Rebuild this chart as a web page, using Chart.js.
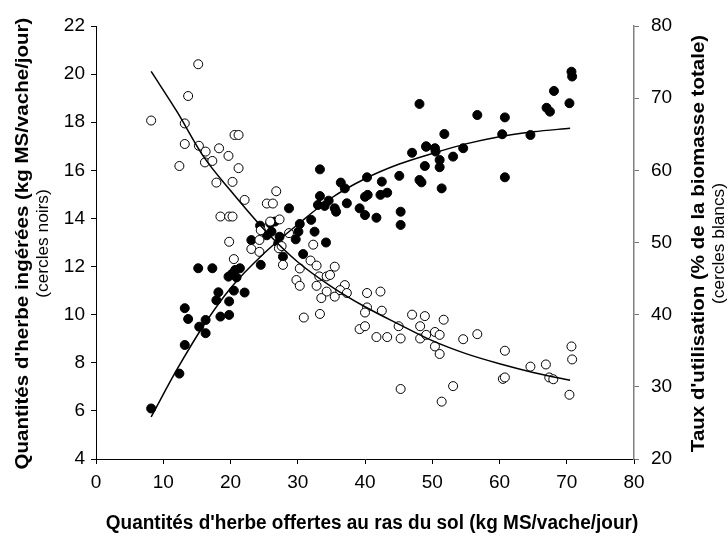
<!DOCTYPE html>
<html>
<head>
<meta charset="utf-8">
<script src="https://cdn.jsdelivr.net/npm/chart.js@4/dist/chart.umd.min.js"></script>
<style>
  body { margin: 0; background: #fff; }
  canvas { display: block; }
</style>
</head>
<body>
<canvas id="chart" width="728" height="538"></canvas>
<script>
// cercles noirs : quantités ingérées (axe gauche)
const blackX = [8.2, 12.4, 13.2, 13.2, 13.7, 15.35, 16.3, 16.3, 17.9, 19.8, 18.5, 19.8, 15.2, 17.3, 18.2,
  20.5, 22.1, 19.7, 20.2, 20.9, 21.4, 20.7, 24.5, 23.1, 24.4, 25.4, 48.1, 33.3, 47.0, 49.1, 48.9, 48.1,
  48.4, 36.4, 37.0, 40.3, 42.5, 45.1, 43.3, 42.3, 40.4, 40.0, 39.2, 40.0, 41.7, 45.3, 45.3, 37.3, 35.5,
  35.7, 34.6, 33.3, 33.0, 34.0, 28.7, 30.3, 30.1, 29.7, 32.0, 32.5, 34.2, 26.6, 26.1, 27.3, 27.1, 30.8,
  27.8, 25.9, 70.7, 70.8, 68.1, 67.0, 67.5, 70.4, 56.7, 60.8, 60.4, 64.6, 60.8, 54.6, 53.1, 51.8, 50.4,
  50.5, 51.1, 51.1, 51.4, 49.1];
const blackY = [6.1, 7.55, 8.74, 10.27, 9.82, 9.5, 9.78, 9.23, 10.6, 10.55, 9.92, 9.99, 11.93, 11.93, 10.93,
  11.0, 10.92, 11.58, 11.69, 11.55, 11.93, 11.86, 12.07, 13.1, 13.7, 13.3, 18.76, 16.04, 16.73, 17.0, 16.18, 15.6,
  15.5, 15.49, 15.25, 15.71, 15.53, 15.77, 15.07, 14.98, 14.98, 14.9, 14.42, 14.14, 14.03, 14.28, 13.73, 14.63, 14.42,
  14.28, 14.74, 14.93, 14.56, 14.52, 14.42, 13.77, 13.45, 13.13, 13.94, 13.45, 13.0, 13.87, 13.45, 13.24, 12.97, 12.52,
  12.41, 13.8, 20.1, 19.9, 19.3, 18.6, 18.44, 18.79, 18.3, 18.2, 17.5, 17.47, 15.71, 16.92, 16.57, 17.51, 16.92,
  16.78, 16.43, 16.13, 15.25, 16.98];

// cercles blancs : taux d'utilisation (axe droit)
const whiteX = [15.2, 13.7, 8.2, 13.2, 20.6, 21.2, 13.2, 15.3, 16.3, 18.3, 19.7, 16.2, 17.3, 12.4, 21.2,
  17.9, 20.3, 22.1, 25.4, 18.5, 19.8, 20.3, 19.8, 23.1, 24.3, 24.3, 25.9, 24.5, 20.5, 26.8, 26.3, 27.3,
  28.7, 32.3, 27.2, 27.6, 27.8, 31.9, 32.8, 30.3, 35.5, 29.8, 30.3, 33.2, 34.3, 34.8, 32.8, 34.3, 33.5,
  35.5, 37.0, 36.3, 37.3, 30.9, 33.3, 40.3, 42.3, 40.3, 40.0, 42.5, 39.2, 40.0, 41.7, 43.3, 45.3, 45.0,
  47.0, 48.9, 48.2, 48.2, 49.1, 45.3, 51.7, 50.4, 51.1, 50.4, 51.1, 54.6, 56.7, 60.8, 60.5, 60.8, 64.6,
  66.9, 67.4, 68.0, 70.7, 70.8, 70.4, 53.1, 51.4];
const whiteY = [74.7, 70.3, 66.9, 66.5, 64.9, 64.9, 63.65, 63.4, 62.6, 63.05, 62.0, 61.1, 61.3, 60.6, 60.3,
  58.3, 58.4, 55.9, 55.4, 53.6, 53.6, 53.6, 50.1, 49.1, 48.7, 50.35, 52.9, 51.7, 47.7, 57.1, 55.4, 53.2,
  51.3, 49.7, 49.2, 49.5, 46.9, 47.5, 46.8, 46.4, 46.65, 44.8, 44.0, 45.3, 45.3, 45.5, 44.0, 43.2, 42.3,
  42.5, 44.1, 43.4, 43.0, 39.6, 40.1, 43.0, 43.2, 41.0, 40.3, 40.55, 38.0, 38.4, 36.9, 36.9, 36.7, 38.4,
  40.0, 39.8, 38.4, 36.7, 37.2, 29.7, 39.3, 37.6, 37.2, 35.6, 34.55, 36.6, 37.3, 35.0, 31.1, 31.3, 32.8,
  33.1, 31.3, 31.05, 35.6, 33.8, 28.9, 30.1, 27.95];

// courbes d'ajustement
const fitX = [8.2, 12, 16, 20, 25, 30, 35, 40, 45, 50, 55, 60, 65, 70.5];
const blackFitY = [5.75, 7.7, 9.55, 11.1, 12.55, 13.75, 14.85, 15.65, 16.25, 16.7, 17.1, 17.4, 17.6, 17.75];
const whiteFitY = [73.7, 68.2, 61.9, 57.2, 51.8, 47.3, 43.9, 41.1, 38.7, 36.4, 34.6, 33.2, 32.0, 30.9];

const xTicks = [0, 10, 20, 30, 40, 50, 60, 70, 80];
const leftTicks = [4, 6, 8, 10, 12, 14, 16, 18, 20, 22];
const rightTicks = [20, 30, 40, 50, 60, 70, 80];

const FONT = "'Liberation Sans', Arial, sans-serif";
const STRETCH = 1.08;

function toPoints(xs, ys) {
  return xs.map((x, i) => ({ x: x, y: ys[i] }));
}

function fixedTicks(values) {
  return function(scale) {
    scale.ticks = values.map(v => ({ value: v }));
  };
}

function drawText(ctx, text, x, y, font, rotate) {
  ctx.save();
  ctx.translate(x, y);
  if (rotate) {
    ctx.rotate(-Math.PI / 2);
    ctx.scale(STRETCH, 1);
  } else {
    ctx.scale(1, STRETCH);
  }
  ctx.font = font;
  ctx.fillStyle = "#000";
  ctx.textAlign = "center";
  ctx.textBaseline = "middle";
  ctx.fillText(text, 0, 0);
  ctx.restore();
}

const titlesPlugin = {
  id: "titles",
  afterDraw(chart) {
    const ctx = chart.ctx;
    const area = chart.chartArea;
    const midY = (area.top + area.bottom) / 2 + 1;
    drawText(ctx, "Quantités d'herbe ingérées (kg MS/vache/jour)", 23, midY, "bold 19px " + FONT, true);
    drawText(ctx, "(cercles noirs)", 44, midY, "16px " + FONT, true);
    drawText(ctx, "Taux d'utilisation (% de la biomasse totale)", 699, midY, "bold 19px " + FONT, true);
    drawText(ctx, "(cercles blancs)", 720, midY, "16px " + FONT, true);
    drawText(ctx, "Quantités d'herbe offertes au ras du sol (kg MS/vache/jour)", 372, 523, "bold 19px " + FONT, false);
  }
};

const tickFont = { family: FONT, size: 19 };

new Chart(document.getElementById("chart"), {
  type: "scatter",
  data: {
    datasets: [
      {
        type: "line",
        data: toPoints(fitX, blackFitY),
        yAxisID: "y",
        borderColor: "#000",
        borderWidth: 1.5,
        pointRadius: 0,
        cubicInterpolationMode: "monotone",
        order: 0
      },
      {
        type: "line",
        data: toPoints(fitX, whiteFitY),
        yAxisID: "y2",
        borderColor: "#000",
        borderWidth: 1.5,
        pointRadius: 0,
        cubicInterpolationMode: "monotone",
        order: 0
      },
      {
        data: toPoints(whiteX, whiteY),
        yAxisID: "y2",
        backgroundColor: "#fff",
        borderColor: "#000",
        borderWidth: 1,
        pointRadius: 4.5,
        order: 1
      },
      {
        data: toPoints(blackX, blackY),
        yAxisID: "y",
        backgroundColor: "#000",
        borderColor: "#000",
        borderWidth: 1,
        pointRadius: 4.5,
        order: 2
      }
    ]
  },
  options: {
    responsive: false,
    animation: false,
    layout: { padding: { top: 26 } },
    plugins: {
      legend: { display: false },
      tooltip: { enabled: false }
    },
    scales: {
      x: {
        type: "linear",
        min: 0,
        max: 80,
        afterBuildTicks: fixedTicks(xTicks),
        afterFit: s => { s.height = 79; },
        border: { color: "#000", width: 1 },
        grid: { drawOnChartArea: false, tickLength: 5, color: "#000" },
        ticks: { font: tickFont, color: "#000", padding: 7, maxRotation: 0 }
      },
      y: {
        type: "linear",
        position: "left",
        min: 4,
        max: 22,
        afterBuildTicks: fixedTicks(leftTicks),
        afterFit: s => { s.width = 96; },
        border: { color: "#000", width: 1 },
        grid: { drawOnChartArea: false, tickLength: 5, color: "#000" },
        ticks: { font: tickFont, color: "#000", padding: 6 }
      },
      y2: {
        type: "linear",
        position: "right",
        min: 20,
        max: 80,
        afterBuildTicks: fixedTicks(rightTicks),
        afterFit: s => { s.width = 94; },
        border: { color: "#808080", width: 1.5 },
        grid: { drawOnChartArea: false, tickLength: 5, color: "#707070" },
        ticks: { font: tickFont, color: "#000", padding: 12 }
      }
    }
  },
  plugins: [titlesPlugin]
});
</script>
</body>
</html>
